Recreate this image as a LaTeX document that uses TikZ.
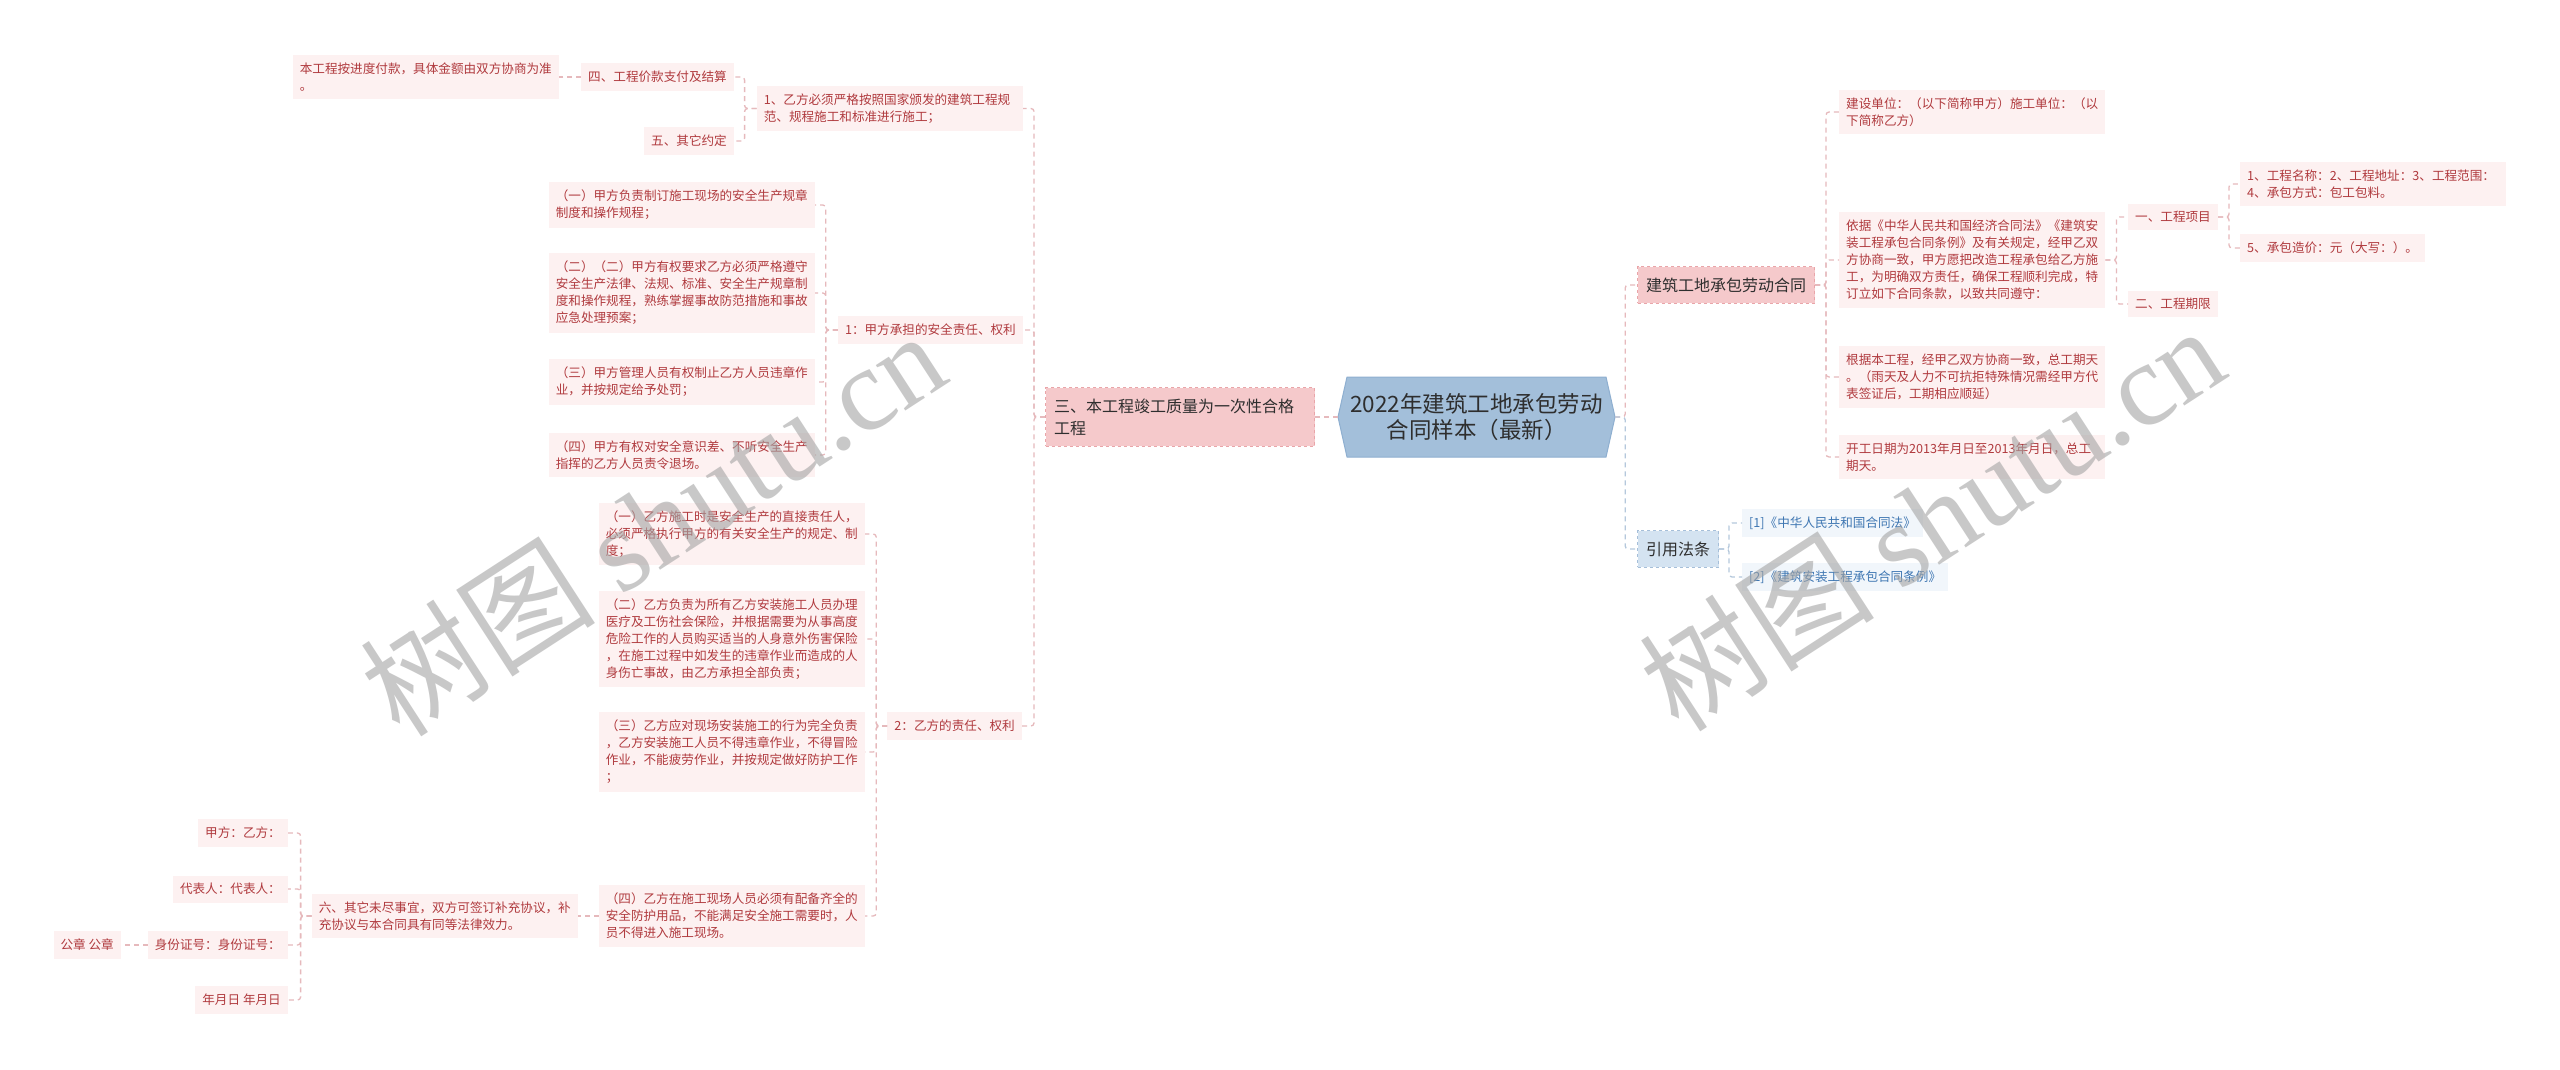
\documentclass[tikz,border=0pt]{standalone}
\usepackage{fontspec}
\setmainfont{Noto Sans CJK SC}
\newfontfamily\wmserif{Liberation Serif}
\definecolor{leafbg}{HTML}{FDF1F1}
\definecolor{leaftxt}{HTML}{B03A3E}
\definecolor{pinkbg}{HTML}{F5C9CB}
\definecolor{pinkbd}{HTML}{E9A5A9}
\definecolor{connp}{HTML}{E6B9BC}
\definecolor{connb}{HTML}{B5C8DC}
\definecolor{rootbg}{HTML}{A3BFDA}
\definecolor{rootbd}{HTML}{8EAFD0}
\definecolor{bluebg}{HTML}{D4E3F1}
\definecolor{bluebd}{HTML}{A6BFD9}
\definecolor{citebg}{HTML}{F1F6FB}
\definecolor{citetxt}{HTML}{3E76B2}
\definecolor{darktxt}{HTML}{2E2E2E}
\definecolor{wmgray}{HTML}{A4A4A4}
\newcommand\fLeaf{\fontsize{12.6pt}{17pt}\selectfont}
\newcommand\fMid{\fontsize{16pt}{22pt}\selectfont}
\newcommand\fRoot{\fontsize{22.5pt}{26pt}\selectfont}
\newcommand\fWm{\fontsize{118pt}{118pt}\selectfont}
\begin{document}
\begin{tikzpicture}[x=1pt,y=-1pt,
 leafbox/.style={fill=leafbg, text=leaftxt, font=\fLeaf, inner xsep=7pt, inner ysep=7.7pt, align=left},
 leafwide/.style={leafbox, text width=252pt},
 midbox/.style={fill=pinkbg, draw=pinkbd, dashed, line width=1pt, text=darktxt, font=\fMid, inner xsep=8.5pt, inner ysep=11pt, align=left},
 midblue/.style={midbox, fill=bluebg, draw=bluebd},
 citebox/.style={leafbox, fill=citebg, text=citetxt},
 hexfill/.style={fill=rootbg, draw=rootbd, line width=1pt},
 rootbox/.style={text=darktxt, font=\fRoot, align=center, minimum width=277pt, minimum height=80pt, inner sep=0pt},
 lnpink/.style={draw=connp, line width=1.3pt, dash pattern=on 5pt off 4pt, rounded corners=3pt},
 lnblue/.style={lnpink, draw=connb},
 wmark/.style={text=wmgray, opacity=0.6, rotate=33, font=\fWm}
]
\useasboundingbox (0,0) rectangle (2560,1069);
\fill[white] (0,0) rectangle (2560,1069);

% root hexagon
\path[hexfill] (1338,417) -- (1347,377) -- (1606,377) -- (1615,417) -- (1606,457) -- (1347,457) -- cycle;
\node[rootbox] (root) at (1476.5,417) {2022年建筑工地承包劳动\\合同样本（最新）};

% left branch
\node[midbox, text width=252pt, anchor=east] (n3) at (1315,417) {三、本工程竣工质量为一次性合格\\工程};

\node[leafwide, anchor=east] (a1) at (1023,108.5) {1、乙方必须严格按照国家颁发的建筑工程规\\范、规程施工和标准进行施工；};
\node[leafbox, anchor=east] (a1a) at (734,77) {四、工程价款支付及结算};
\node[leafbox, anchor=east] (a1b) at (734,141) {五、其它约定};
\node[leafwide, anchor=east] (a1a1) at (559,77) {本工程按进度付款，具体金额由双方协商为准\\。};

\node[leafbox, anchor=east] (b) at (1023,330) {1：甲方承担的安全责任、权利};
\node[leafwide, anchor=east] (b1) at (815,205) {（一）甲方负责制订施工现场的安全生产规章\\制度和操作规程；};
\node[leafwide, anchor=east] (b2) at (815,293) {（二）（二）甲方有权要求乙方必须严格遵守\\安全生产法律、法规、标准、安全生产规章制\\度和操作规程，熟练掌握事故防范措施和事故\\应急处理预案；};
\node[leafwide, anchor=east] (b3) at (815,382) {（三）甲方管理人员有权制止乙方人员违章作\\业，并按规定给予处罚；};
\node[leafwide, anchor=east] (b4) at (815,455) {（四）甲方有权对安全意识差、不听安全生产\\指挥的乙方人员责令退场。};

\node[leafbox, anchor=east] (c) at (1022,726) {2：乙方的责任、权利};
\node[leafwide, anchor=east] (c1) at (865,534) {（一）乙方施工时是安全生产的直接责任人，\\必须严格执行甲方的有关安全生产的规定、制\\度；};
\node[leafwide, anchor=east] (c2) at (865,639) {（二）乙方负责为所有乙方安装施工人员办理\\医疗及工伤社会保险，并根据需要为从事高度\\危险工作的人员购买适当的人身意外伤害保险\\，在施工过程中如发生的违章作业而造成的人\\身伤亡事故，由乙方承担全部负责；};
\node[leafwide, anchor=east] (c3) at (865,752) {（三）乙方应对现场安装施工的行为完全负责\\，乙方安装施工人员不得违章作业，不得冒险\\作业，不能疲劳作业，并按规定做好防护工作\\；};
\node[leafwide, anchor=east] (c4) at (865,916) {（四）乙方在施工现场人员必须有配备齐全的\\安全防护用品，不能满足安全施工需要时，人\\员不得进入施工现场。};

\node[leafwide, anchor=east] (d) at (578,916) {六、其它未尽事宜，双方可签订补充协议，补\\充协议与本合同具有同等法律效力。};
\node[leafbox, anchor=east] (d1) at (288,833) {甲方：乙方：};
\node[leafbox, anchor=east] (d2) at (288,889) {代表人：代表人：};
\node[leafbox, anchor=east] (d3) at (288,945) {身份证号：身份证号：};
\node[leafbox, anchor=east] (d3a) at (121,945) {公章 公章};
\node[leafbox, anchor=east] (d4) at (288,1000) {年月日 年月日};

% right branch
\node[midbox, anchor=west] (r1) at (1637,285) {建筑工地承包劳动合同};
\node[midblue, anchor=west] (r2) at (1637,549) {引用法条};

\node[leafwide, anchor=west] (r1a) at (1839,112) {建设单位：（以下简称甲方）施工单位：（以\\下简称乙方）};
\node[leafwide, anchor=west] (r1b) at (1839,260) {依据《中华人民共和国经济合同法》《建筑安\\装工程承包合同条例》及有关规定，经甲乙双\\方协商一致，甲方愿把改造工程承包给乙方施\\工，为明确双方责任，确保工程顺利完成，特\\订立如下合同条款，以致共同遵守：};
\node[leafwide, anchor=west] (r1c) at (1839,377) {根据本工程，经甲乙双方协商一致，总工期天\\。（雨天及人力不可抗拒特殊情况需经甲方代\\表签证后，工期相应顺延）};
\node[leafwide, anchor=west] (r1d) at (1839,457) {开工日期为2013年月日至2013年月日，总工\\期天。};

\node[leafbox, anchor=west] (r1b1) at (2128,217) {一、工程项目};
\node[leafbox, anchor=west] (r1b2) at (2128,304) {二、工程期限};
\node[leafwide, anchor=west] (r1b1a) at (2240,184) {1、工程名称：2、工程地址：3、工程范围：\\4、承包方式：包工包料。};
\node[leafbox, anchor=west] (r1b1b) at (2240,248) {5、承包造价：元（大写：）。};

\node[citebox, anchor=west] (r2a) at (1742,523) {[1]《中华人民共和国合同法》};
\node[citebox, anchor=west] (r2b) at (1742,577) {[2]《建筑安装工程承包合同条例》};

% connectors left
\draw[lnpink] (root.west) -- (n3.east);
\foreach \ch in {a1,b,c} \draw[lnpink] (n3.west) -- ++(-11,0) |- (\ch.east);
\foreach \ch in {a1a,a1b} \draw[lnpink] (a1.west) -- ++(-12,0) |- (\ch.east);
\draw[lnpink] (a1a.west) -- (a1a1.east);
\foreach \ch in {b1,b2,b3,b4} \draw[lnpink] (b.west) -- ++(-12,0) |- (\ch.east);
\foreach \ch in {c1,c2,c3,c4} \draw[lnpink] (c.west) -- ++(-11,0) |- (\ch.east);
\draw[lnpink] (c4.west) -- (d.east);
\foreach \ch in {d1,d2,d3,d4} \draw[lnpink] (d.west) -- ++(-11,0) |- (\ch.east);
\draw[lnpink] (d3.west) -- (d3a.east);

% connectors right
\draw[lnpink] (root.east) -- ++(10,0) |- (r1.west);
\draw[lnblue] (root.east) -- ++(10,0) |- (r2.west);
\foreach \ch in {r1a,r1b,r1c,r1d} \draw[lnpink] (r1.east) -- ++(11,0) |- (\ch.west);
\foreach \ch in {r1b1,r1b2} \draw[lnpink] (r1b.east) -- ++(11,0) |- (\ch.west);
\foreach \ch in {r1b1a,r1b1b} \draw[lnpink] (r1b1.east) -- ++(11,0) |- (\ch.west);
\foreach \ch in {r2a,r2b} \draw[lnblue] (r2.east) -- ++(10,0) |- (\ch.west);

% watermarks
\node[wmark] (wm1) at (652,522) {树图 {\wmserif shutu.cn}};
\node[wmark] (wm2) at (1931,517) {树图 {\wmserif shutu.cn}};
\end{tikzpicture}
\end{document}
